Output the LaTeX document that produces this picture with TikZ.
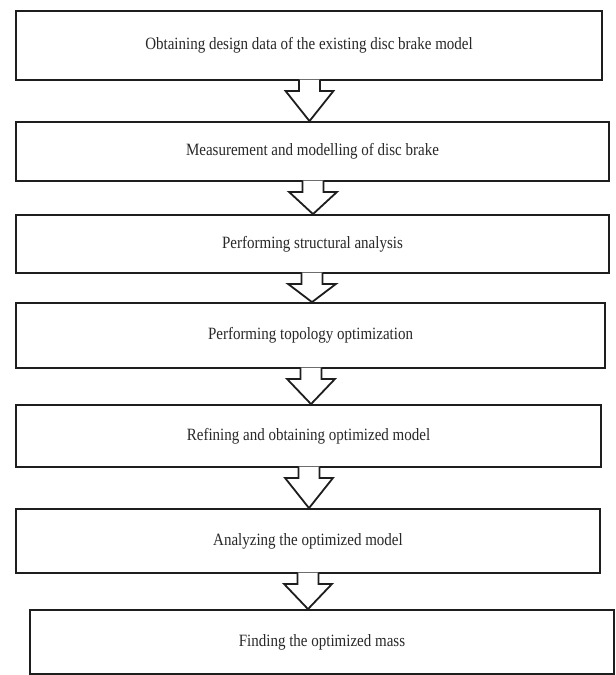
\documentclass[tikz,border=0pt]{standalone}
\usepackage{fontspec}
\setmainfont{Liberation Serif}
\usetikzlibrary{calc}
\definecolor{ink}{RGB}{30,30,30}
\definecolor{txt}{RGB}{40,40,40}
\newcommand{\tallText}[1]{\scalebox{1}[1.15]{#1}}
\tikzset{
  stepbox/.style={draw=ink, line width=1.8pt, fill=white, inner sep=0pt,
    font=\fontsize{15}{18}\selectfont, text=txt},
  blockarr/.style={draw=ink, line width=1.8pt, fill=white, line join=miter}
}
\newcommand{\flowarrow}[3]{%
  \draw[blockarr] let \p1=(#1.south), \p2=(#2.north) in
    ({#3pt-10.5pt},{\y1+1.2pt}) -- ({#3pt-10.5pt},{\y1-10pt}) --
    ({#3pt-24pt},{\y1-10pt}) -- ({#3pt},{\y2}) --
    ({#3pt+24pt},{\y1-10pt}) -- ({#3pt+10.5pt},{\y1-10pt}) --
    ({#3pt+10.5pt},{\y1+1.2pt});
}
\begin{document}
\begin{tikzpicture}[x=1pt,y=-1pt]
\useasboundingbox[fill=white] (0,0) rectangle (616,675);
\node[stepbox, minimum width=586pt, minimum height=69pt] (b1) at (309,45.5)
  {\tallText{Obtaining design data of the existing disc brake model}};
\node[stepbox, minimum width=593pt, minimum height=59pt] (b2) at (312.5,151.5)
  {\tallText{Measurement and modelling of disc brake}};
\node[stepbox, minimum width=593pt, minimum height=58pt] (b3) at (312.5,244)
  {\tallText{Performing structural analysis}};
\node[stepbox, minimum width=589pt, minimum height=65pt] (b4) at (310.5,335.5)
  {\tallText{Performing topology optimization}};
\node[stepbox, minimum width=585pt, minimum height=62pt] (b5) at (308.5,436)
  {\tallText{Refining and obtaining optimized model}};
\node[stepbox, minimum width=584pt, minimum height=64pt] (b6) at (308,541)
  {\tallText{Analyzing the optimized model}};
\node[stepbox, minimum width=584pt, minimum height=64pt] (b7) at (322,642)
  {\tallText{Finding the optimized mass}};
\flowarrow{b1}{b2}{309.5}
\flowarrow{b2}{b3}{313}
\flowarrow{b3}{b4}{312}
\flowarrow{b4}{b5}{311}
\flowarrow{b5}{b6}{309}
\flowarrow{b6}{b7}{308}
\end{tikzpicture}
\end{document}
